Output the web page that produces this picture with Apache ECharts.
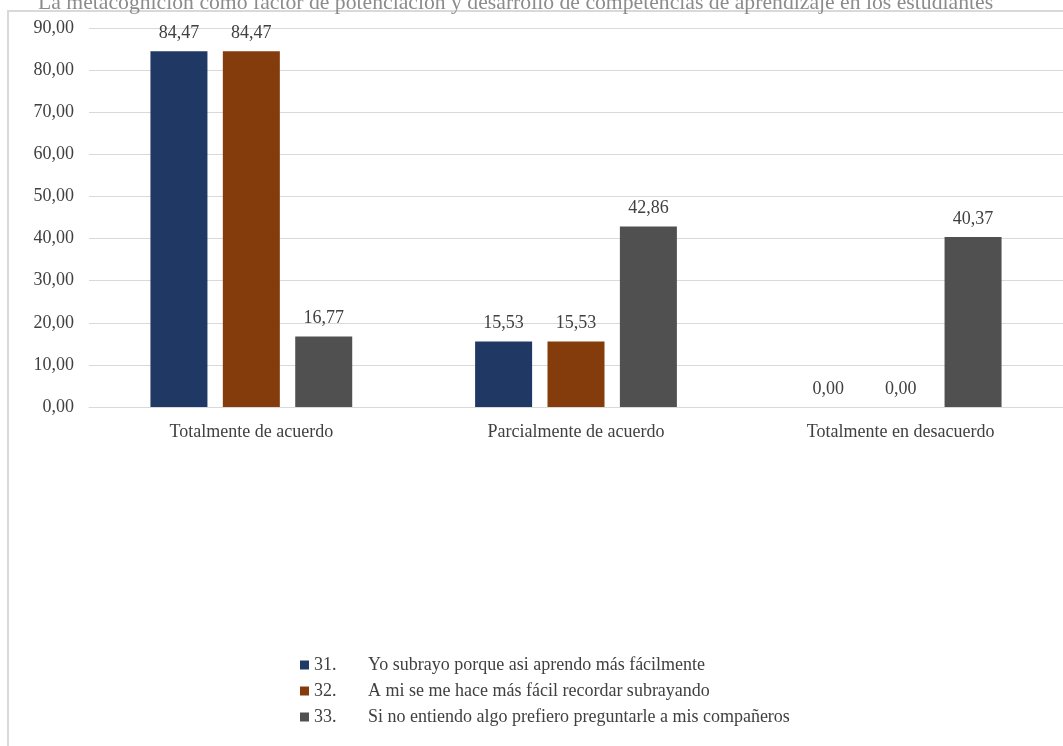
<!DOCTYPE html>
<html>
<head>
<meta charset="utf-8">
<script src="https://cdn.jsdelivr.net/npm/echarts@6/dist/echarts.min.js"></script>
<style>
html,body{margin:0;padding:0;background:#fff;}
#chart{width:1063px;height:746px;}
</style>
</head>
<body>
<div id="chart"></div>
<script>
const titleText = 'La metacognición como factor de potenciación y desarrollo de competencias de aprendizaje en los estudiantes';
const categories = ['Totalmente de acuerdo', 'Parcialmente de acuerdo', 'Totalmente en desacuerdo'];
const seriesNumbers = ['31.', '32.', '33.'];
const seriesNames = [
  'Yo subrayo porque asi aprendo más fácilmente',
  'A mi se me hace más fácil recordar subrayando',
  'Si no entiendo algo prefiero preguntarle a mis compañeros'
];
const values31 = [84.47, 15.53, 0.00];
const values32 = [84.47, 15.53, 0.00];
const values33 = [16.77, 42.86, 40.37];
const yTicks = { min: 0, max: 90, interval: 10 };

const colors = ['#203864', '#843C0C', '#505050'];
const font = 'Liberation Serif';
const fmt = v => Number(v).toFixed(2).replace('.', ',');

const allValues = [values31, values32, values33];
const legendNames = seriesNumbers.map((n, i) => n + ' ' + seriesNames[i]);

const chart = echarts.init(document.getElementById('chart'));
chart.setOption({
  animation: false,
  backgroundColor: '#fff',
  title: {
    text: titleText,
    left: 33,
    top: -13,
    textStyle: { fontFamily: font, fontSize: 21.7, fontWeight: 'normal', color: '#8c8c8c' }
  },
  graphic: [{
    type: 'rect',
    shape: { x: 8, y: 11, width: 1200, height: 900 },
    style: { fill: 'none', stroke: '#d9d9d9', lineWidth: 2 },
    silent: true,
    z: -1
  }],
  grid: { left: 89, right: 0, top: 28, bottom: 339 },
  legend: {
    orient: 'vertical',
    left: 295,
    top: 651,
    itemWidth: 9,
    itemHeight: 9,
    itemGap: 8,
    icon: 'rect',
    data: legendNames,
    formatter: name => {
      const i = legendNames.indexOf(name);
      return '{n|' + seriesNumbers[i] + '}{t|' + seriesNames[i] + '}';
    },
    textStyle: {
      fontFamily: font, fontSize: 18, color: '#404040',
      rich: {
        n: { fontFamily: font, fontSize: 18, color: '#404040', width: 54, height: 18 },
        t: { fontFamily: font, fontSize: 18, color: '#404040', height: 18 }
      }
    }
  },
  xAxis: {
    type: 'category',
    data: categories,
    axisLine: { lineStyle: { color: '#d9d9d9', width: 1 } },
    axisTick: { show: false },
    axisLabel: { fontFamily: font, fontSize: 18, color: '#404040', margin: 16 }
  },
  yAxis: {
    type: 'value',
    min: yTicks.min,
    max: yTicks.max,
    interval: yTicks.interval,
    axisLine: { show: false },
    axisTick: { show: false },
    splitLine: { lineStyle: { color: '#d9d9d9', width: 1 } },
    axisLabel: { fontFamily: font, fontSize: 18, color: '#404040', margin: 15, formatter: fmt }
  },
  series: allValues.map((vals, i) => ({
    name: legendNames[i],
    type: 'bar',
    data: vals,
    barWidth: 57,
    barGap: '27%',
    itemStyle: { color: colors[i] },
    label: {
      show: true,
      position: 'top',
      distance: 9,
      fontFamily: font,
      fontSize: 18,
      color: '#404040',
      formatter: p => fmt(p.value)
    }
  }))
});
</script>
</body>
</html>
